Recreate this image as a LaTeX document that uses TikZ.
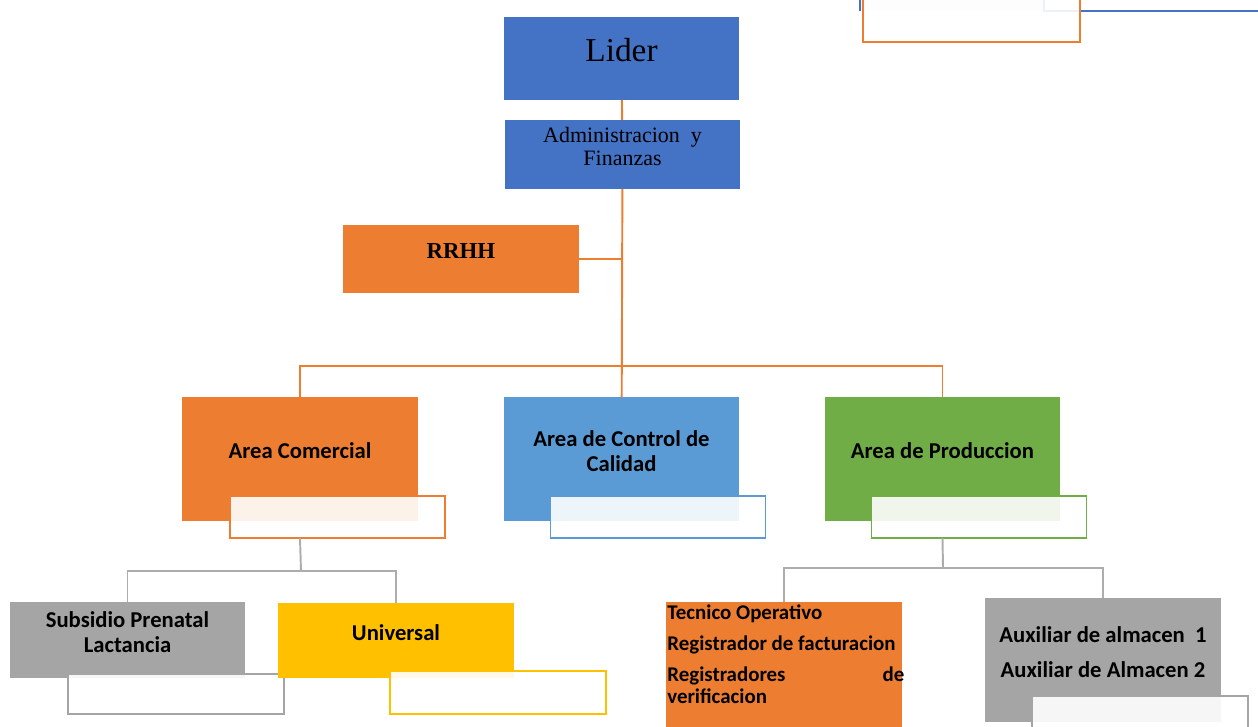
\documentclass[tikz,border=0pt]{standalone}
\usepackage{fontspec}
\setmainfont{Carlito}
\newfontfamily\timesfont{Liberation Serif}
\definecolor{cBlue}{HTML}{4472C4}
\definecolor{cLight}{HTML}{5B9BD5}
\definecolor{cOrange}{HTML}{ED7D31}
\definecolor{cGreen}{HTML}{70AD47}
\definecolor{cGray}{HTML}{A5A5A5}
\definecolor{cYellow}{HTML}{FFC000}
\definecolor{cLine}{HTML}{ADADAD}

\begin{document}
\begin{tikzpicture}[x=0.02cm,y=-0.02cm,
    box/.style={minimum width=4.72cm, minimum height=#1, inner sep=0pt, outer sep=0pt},
    box/.default=2.48cm,
    ov/.style={draw=#1, line width=1.1pt, fill=white, fill opacity=0.9,
      minimum width=4.3cm, minimum height=0.84cm, inner sep=0pt, outer sep=0pt},
    txt/.style={yshift=0.16cm, align=center, inner sep=0pt,
      font=\fontsize{12.9}{14}\selectfont\bfseries},
    link/.style={cOrange, line width=1.1pt},
    glink/.style={cLine, line width=1.1pt}]
  \useasboundingbox (0,0) rectangle (1258,727);

  % partial boxes at the top
  \fill[cBlue!8] (860,0) rectangle (1044,11);
  \draw[cBlue, line width=1.1pt] (860,0) -- (860,11);
  \draw[cBlue, line width=1.1pt] (1044,0) |- (1258,11);
  \node[ov=cOrange, minimum width=4.34cm, minimum height=1.08cm] (topov) at (971.5,15) {};

  % top
  \node[box=1.66cm, fill=cBlue] (lider) at (621.5,58.5) {};
  \node[yshift=0.16cm, inner sep=0pt, font=\timesfont\fontsize{19}{22}\selectfont] (lidert) at (lider) {Lider};
  \node[box=1.38cm, fill=cBlue] (admin) at (622.5,154.5) {};
  \node[yshift=0.16cm, inner sep=0pt, align=center, font=\timesfont\fontsize{12.5}{13}\selectfont] (admint) at (admin) {Administracion\ \ y\\Finanzas};
  \node[box=1.36cm, fill=cOrange] (rrhh) at (461,259) {};
  \node[yshift=0.16cm, inner sep=0pt, font=\timesfont\bfseries\fontsize{13}{15}\selectfont] (rrhht) at (rrhh) {RRHH};

  % areas
  \node[box, fill=cOrange] (ac) at (300,459) {};
  \node[txt] (act) at (ac) {Area Comercial};
  \node[ov=cOrange] (acov) at (337.5,517) {};
  \node[box, fill=cLight] (cal) at (621.5,459) {};
  \node[txt] (calt) at (cal) {Area de Control de\\Calidad};
  \node[ov=cLight] (calov) at (658,517) {};
  \node[box, fill=cGreen] (ap) at (942.5,459) {};
  \node[txt] (apt) at (ap) {Area de Produccion};
  \node[ov=cGreen] (apov) at (979,517) {};

  % bottom
  \node[box=1.52cm, fill=cGray] (sub) at (127.5,640) {};
  \node[txt] (subt) at (sub) {Subsidio Prenatal\\Lactancia};
  \node[ov=cGray, minimum width=4.32cm, minimum height=0.8cm] (subov) at (176,694) {};
  \node[box=1.5cm, fill=cYellow] (uni) at (396,640.5) {};
  \node[txt] (unit) at (uni) {Universal};
  \node[ov=cYellow, minimum width=4.32cm, minimum height=0.86cm] (uniov) at (498,692.5) {};

  \node[box=2.72cm, fill=cOrange] (tec) at (784,670) {};
  \node[anchor=north west, inner sep=0pt, align=left,
    font=\fontsize{11.9}{12.1}\selectfont\bfseries] (tect) at (667,604)
    {Tecnico Operativo\\[5.8pt]Registrador de facturacion\\[5.8pt]\makebox[4.74cm][l]{Registradores\hfill de}\\verificacion};
  \node[box, fill=cGray] (aux) at (1103,660) {};
  \node[txt] (auxt) at (aux) {Auxiliar de almacen\ \ 1\\[6pt]Auxiliar de Almacen 2};
  \node[ov=cGray, minimum width=4.32cm, minimum height=0.88cm] (auxov) at (1140,718) {};

  % links
  \draw[link] (lider) -- (admin);
  \draw[link] (admin) -- (cal);
  \draw[link] (rrhh.east) -- (rrhh.east -| admin.south);
  \coordinate (bus) at (622,366);
  \draw[link] (ac.north) |- (bus) -| (ap.north);

  \coordinate (cbus) at (301,571);
  \draw[glink] (ac.south |- acov.south) -- (cbus);
  \draw[glink] (sub.north) |- (cbus) -| (uni.north);
  \coordinate (pbus) at (943,568);
  \draw[glink] (ap.south |- apov.south) -- (pbus);
  \draw[glink] (tec.north) |- (pbus) -| (aux.north);
\end{tikzpicture}
\end{document}
